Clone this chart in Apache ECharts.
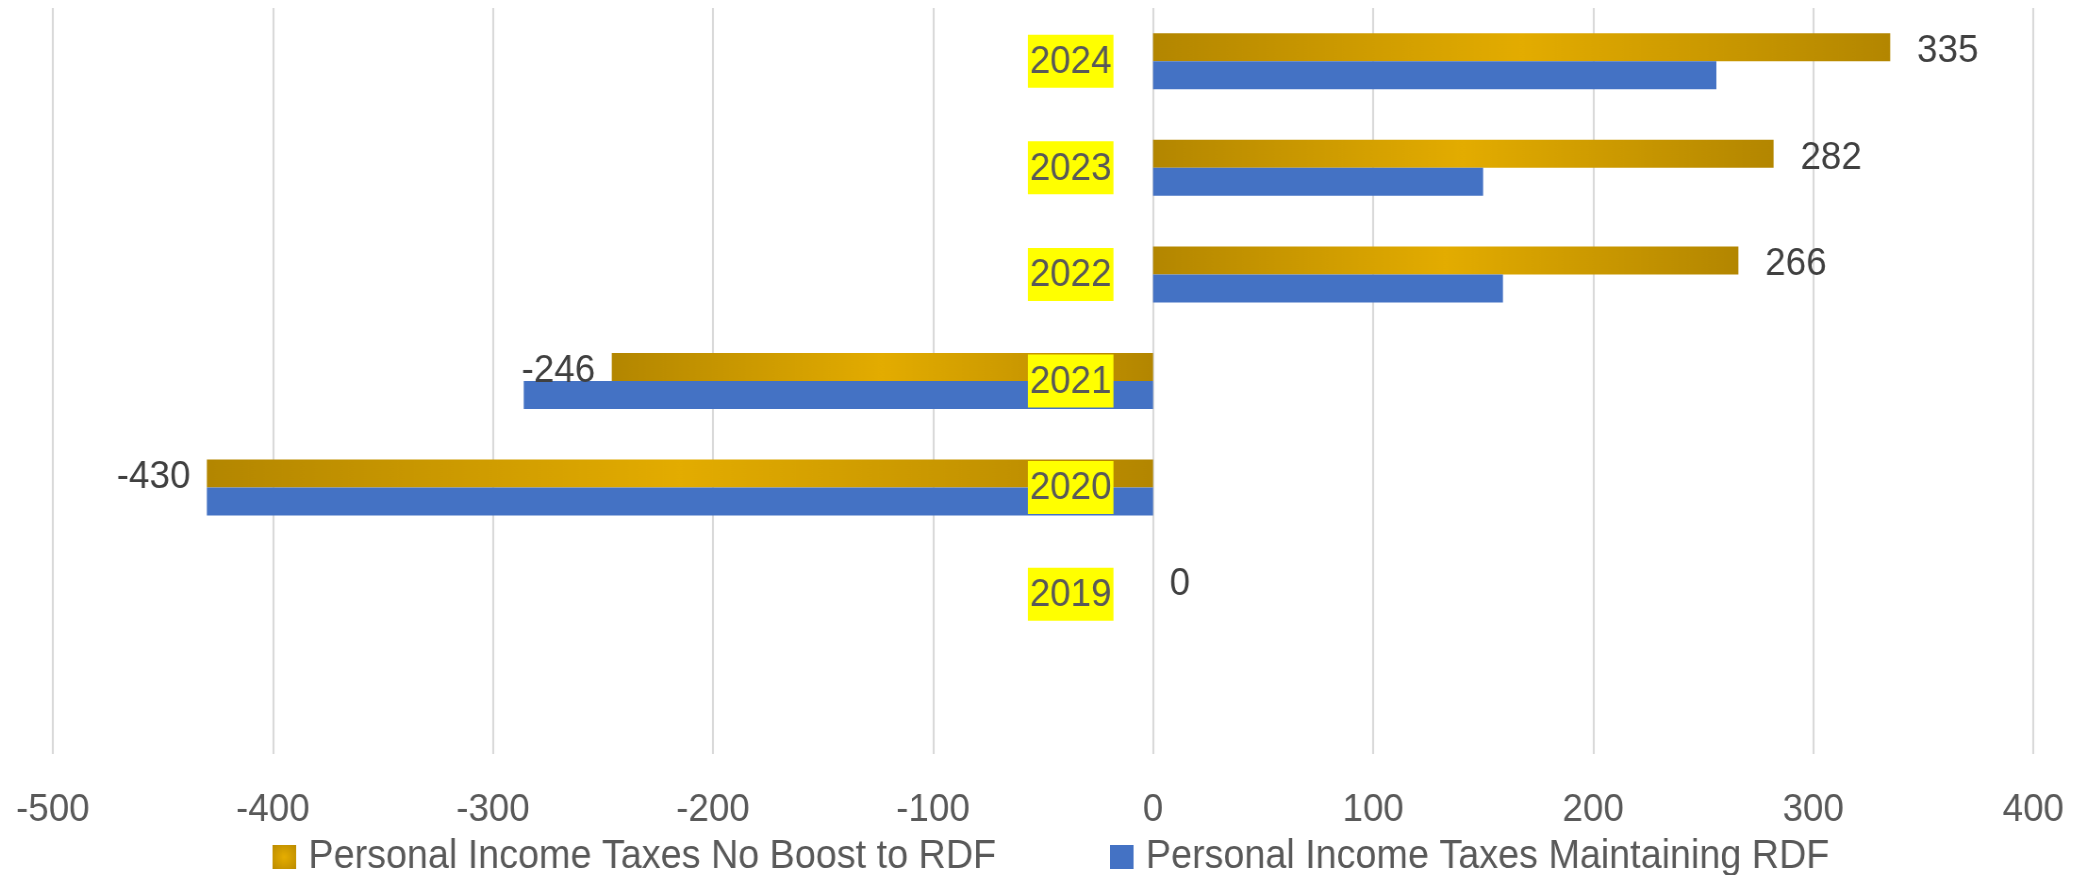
<!DOCTYPE html>
<html>
<head>
<meta charset="utf-8">
<script src="https://cdn.jsdelivr.net/npm/echarts@6/dist/echarts.min.js"></script>
<style>
html,body{margin:0;padding:0;background:#fff;overflow:hidden;width:2087px;height:875px;}
#chart{width:2213px;height:875px;transform:scaleX(0.94306);transform-origin:0 0;}
</style>
</head>
<body>
<div id="chart"></div>
<script>
// Categories (bottom to top); the bottom slot is an empty category in the original
var categories = ['', '2019', '2020', '2021', '2022', '2023', '2024'];
var noBoostValues = [null, 0, -430, -246, 266, 282, 335];
var maintainValues = [null, 0, -430, -286, 159, 150, 256];
var seriesNames = ['Personal Income Taxes No Boost to RDF', 'Personal Income Taxes Maintaining RDF'];
var xTicks = { min: -500, max: 400, interval: 100 };

var FONT = '"Liberation Sans", Arial, sans-serif';

var goldGradient = new echarts.graphic.LinearGradient(0, 0, 1, 0, [
  { offset: 0, color: '#B38600' },
  { offset: 0.5, color: '#E3AC00' },
  { offset: 1, color: '#B38600' }
]);
var goldRadial = new echarts.graphic.RadialGradient(0.5, 0.5, 0.7, [
  { offset: 0, color: '#E6AE00' },
  { offset: 1, color: '#BC8C00' }
]);

var noBoostData = noBoostValues.map(function (v) {
  if (v === null) return { value: null };
  var pos = v > 0;
  return {
    value: v,
    label: { position: v < 0 ? 'left' : 'right', distance: pos ? 28.5 : 17.5 }
  };
});

var legendText = { fontFamily: FONT, fontSize: 40, color: '#595959', lineHeight: 46, padding: [0, 0, 0, 8] };

var chart = echarts.init(document.getElementById('chart'));
chart.setOption({
  animation: false,
  backgroundColor: '#fff',
  grid: { left: 56, right: 57, top: 8, bottom: 121, containLabel: false, outerBoundsMode: 'none' },
  legend: [
    {
      left: 284, top: 829, itemWidth: 25, itemHeight: 24, icon: 'rect',
      textStyle: legendText,
      data: [{ name: seriesNames[0], itemStyle: { color: goldRadial } }]
    },
    {
      left: 1172, top: 829, itemWidth: 25, itemHeight: 24, icon: 'rect',
      textStyle: legendText,
      data: [{ name: seriesNames[1], itemStyle: { color: '#4472C4' } }]
    }
  ],
  xAxis: {
    type: 'value',
    min: xTicks.min,
    max: xTicks.max,
    interval: xTicks.interval,
    axisLine: { show: false },
    axisTick: { show: false },
    splitLine: { show: true, lineStyle: { color: '#D9D9D9', width: 2.1 } },
    axisLabel: { fontFamily: FONT, fontSize: 39, color: '#595959', margin: 33, lineHeight: 46 }
  },
  yAxis: {
    type: 'category',
    data: categories,
    z: 10,
    offset: 0,
    axisLine: { show: false, onZero: false },
    axisTick: { show: false },
    splitLine: { show: false },
    axisLabel: {
      margin: 42,
      formatter: function (v) { return v === '' ? '' : '{y|' + v + '}'; },
      rich: {
        y: {
          fontFamily: FONT,
          fontSize: 39,
          color: '#595959',
          backgroundColor: '#FFFF00',
          padding: [8, 2, 6, 2]
        }
      }
    }
  },
  series: [
    {
      name: seriesNames[0],
      type: 'bar',
      data: noBoostData,
      barWidth: 28,
      barGap: '0%',
      itemStyle: { color: goldGradient },
      label: {
        show: true,
        fontFamily: FONT,
        fontSize: 39,
        color: '#404040',
        offset: [0, 4],
        formatter: function (p) { return p.value; }
      },
      z: 2
    },
    {
      name: seriesNames[1],
      type: 'bar',
      data: maintainValues,
      barWidth: 28,
      barGap: '0%',
      itemStyle: { color: '#4472C4' },
      z: 2
    }
  ]
});

// Place the category axis (and its labels) on the value axis zero line
var zeroX = chart.convertToPixel({ xAxisIndex: 0 }, 0);
var minX = chart.convertToPixel({ xAxisIndex: 0 }, xTicks.min);
chart.setOption({ yAxis: { offset: -(zeroX - minX) } });
</script>
</body>
</html>
